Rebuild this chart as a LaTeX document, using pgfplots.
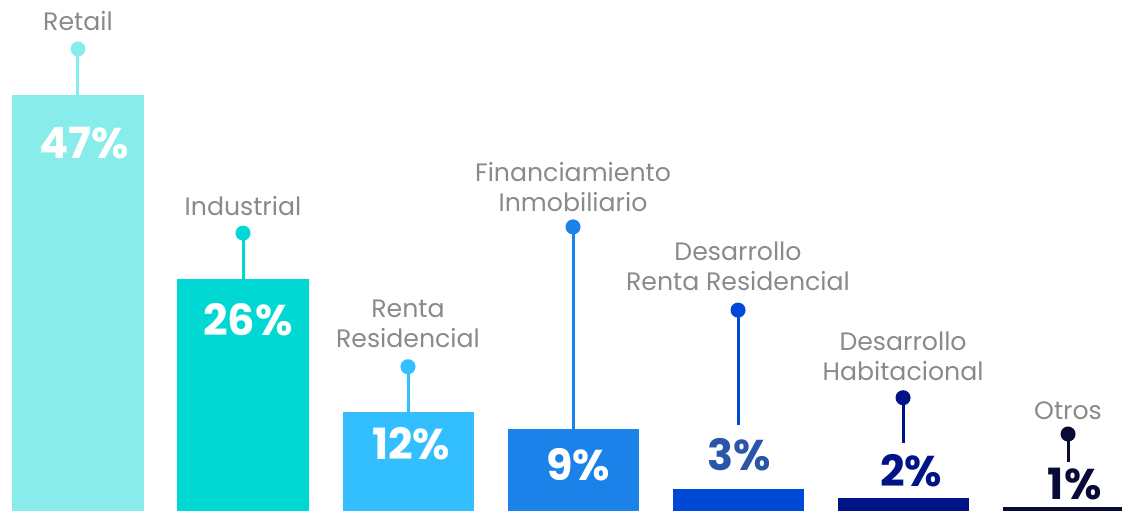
\documentclass[border=0pt]{standalone}
\usepackage{fontspec}
\setmainfont{Poppins}
\usepackage{pgfplots}
\pgfplotsset{compat=1.18}

\definecolor{cRetail}{HTML}{88ECEA}
\definecolor{cInd}{HTML}{00D9D3}
\definecolor{cRenta}{HTML}{33BFFF}
\definecolor{cFin}{HTML}{1A82E8}
\definecolor{cDesR}{HTML}{0048D8}
\definecolor{cHab}{HTML}{001487}
\definecolor{cOtros}{HTML}{0A0A38}
\definecolor{tDesR}{HTML}{2A55A8}
\definecolor{labgray}{HTML}{8A8A8A}

\tikzset{
    cat/.style={font=\fontsize{12.6}{15}\selectfont, text=labgray, align=center},
    pct/.style={font=\fontsize{21.5}{24}\selectfont\bfseries, inner sep=0pt},
}

\begin{document}
\begin{tikzpicture}
\begin{axis}[
    hide axis,
    scale only axis,
    width=561pt, height=255.5pt,
    xmin=-0.4727, xmax=6.327,
    ymin=0, ymax=57.74,
]
% bars (heights as drawn)
\addplot[ybar, bar width=0.794, bar shift=0, fill=cRetail, draw=none] coordinates {(0,47.0)};
\addplot[ybar, bar width=0.794, bar shift=0, fill=cInd, draw=none] coordinates {(1,26.2)};
\addplot[ybar, bar width=0.794, bar shift=0, fill=cRenta, draw=none] coordinates {(2,11.2)};
\addplot[ybar, bar width=0.794, bar shift=0, fill=cFin, draw=none] coordinates {(3,9.3)};
\addplot[ybar, bar width=0.794, bar shift=0, fill=cDesR, draw=none] coordinates {(4,2.5)};
\addplot[ybar, bar width=0.794, bar shift=0, fill=cHab, draw=none] coordinates {(5,1.5)};
\addplot[ybar, bar width=0.794, bar shift=0, fill=cOtros, draw=none] coordinates {(6,0.45)};

% pins: dot on top, stem down
\pgfplotsset{pin/.style={line width=1.5pt, mark=*, mark size=3pt, mark indices={1}}}
\addplot[pin, color=cRetail] coordinates {(0,52.2) (0,47.0)};
\addplot[pin, color=cInd] coordinates {(1,31.4) (1,26.2)};
\addplot[pin, color=cRenta] coordinates {(2,16.3) (2,11.2)};
\addplot[pin, color=cFin] coordinates {(3,32.1) (3,9.3)};
\addplot[pin, color=cDesR] coordinates {(4,22.7) (4,9.7)};
\addplot[pin, color=cHab] coordinates {(5,12.8) (5,7.7)};
\addplot[pin, color=cOtros] coordinates {(6,8.7) (6,5.5)};

% category labels
\node[cat] at (axis cs:0,55.4) {Retail};
\node[cat] at (axis cs:1,34.5) {Industrial};
\node[cat] at (axis cs:2,21.1) {Renta\\Residencial};
\node[cat] at (axis cs:3,36.6) {Financiamiento\\Inmobiliario};
\node[cat] at (axis cs:4,27.7) {Desarrollo\\Renta Residencial};
\node[cat] at (axis cs:5,17.5) {Desarrollo\\Habitacional};
\node[cat] at (axis cs:6,11.3) {Otros};

% value labels
\node[pct, text=white] at (axis cs:0.036,41.6) {47\%};
\node[pct, text=white] at (axis cs:1.03,21.6) {26\%};
\node[pct, text=white] at (axis cs:2.02,7.6) {12\%};
\node[pct, text=white] at (axis cs:3.03,5.2) {9\%};
\node[pct, text=tDesR] at (axis cs:4.01,6.4) {3\%};
\node[pct, text=cHab] at (axis cs:5.05,4.6) {2\%};
\node[pct, text=cOtros] at (axis cs:6.04,3.1) {1\%};
\end{axis}
\pgfresetboundingbox
\path (current axis.south west) rectangle (current axis.north east);
\end{tikzpicture}
\end{document}
